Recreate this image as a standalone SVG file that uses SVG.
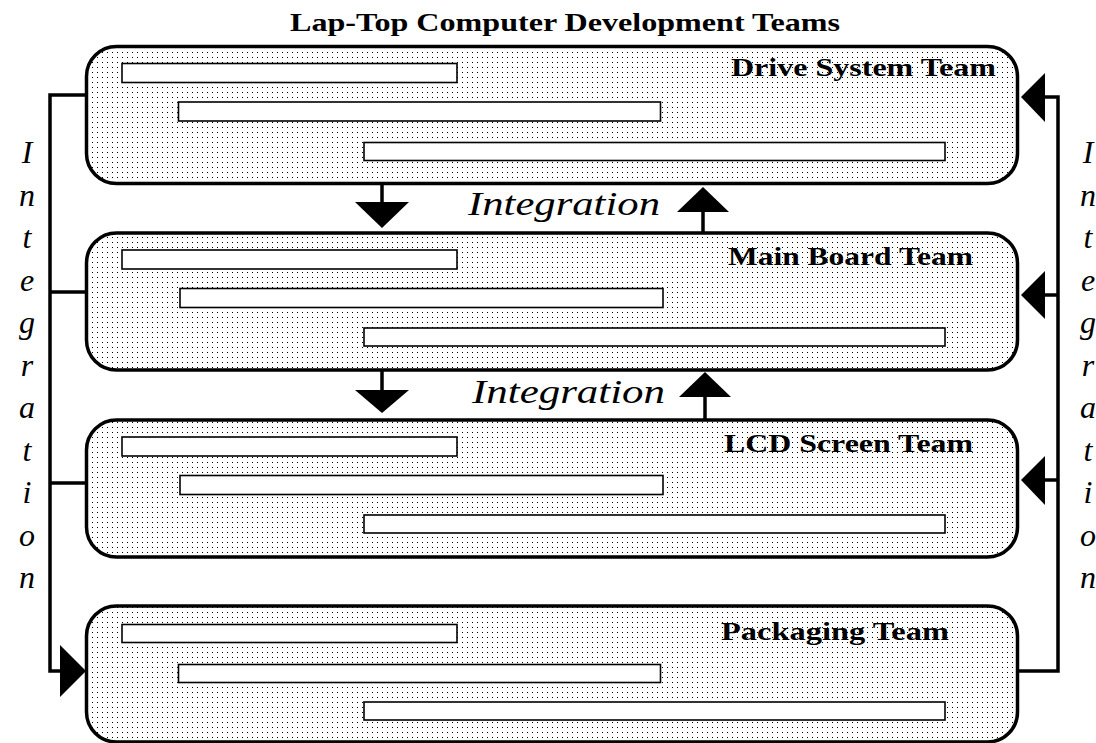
<svg xmlns="http://www.w3.org/2000/svg" width="1096" height="743" viewBox="0 0 1096 743">
<defs>
<pattern id="dots" x="0" y="0" width="5" height="5" patternUnits="userSpaceOnUse">
<rect x="2" y="2" width="1" height="1" fill="#000" shape-rendering="crispEdges"/>
</pattern>
<style>
.box{fill:url(#dots);stroke:#000;stroke-width:3.5}
.bar{fill:#fff;stroke:#000;stroke-width:1.6}
.lbl{font-family:"Liberation Serif","Times New Roman",serif;font-weight:bold;font-size:25px;fill:#000}
.title{font-family:"Liberation Serif","Times New Roman",serif;font-weight:bold;font-size:26px;fill:#000}
.it{font-family:"Liberation Serif","Times New Roman",serif;font-style:italic;font-size:34px;fill:#000}
.vt{font-family:"Liberation Serif","Times New Roman",serif;font-style:italic;font-size:32px;fill:#000;text-anchor:middle}
.ln{fill:none;stroke:#000;stroke-width:3.5}
.ah{fill:#000;stroke:none}
</style>
</defs>
<rect width="1096" height="743" fill="#fff"/>
<text class="title" x="290" y="31" textLength="550" lengthAdjust="spacingAndGlyphs">Lap-Top Computer Development Teams</text>

<g id="connectors">
<path class="ln" d="M86 95 H50 V671 H62"/>
<path class="ln" d="M50 292 H86"/>
<path class="ln" d="M50 483 H86"/>
<polygon class="ah" points="60,645 86,671 60,697"/>
<path class="ln" d="M1018 671 H1058 V97 H1043"/>
<path class="ln" d="M1058 295 H1043"/>
<path class="ln" d="M1058 480 H1043"/>
<polygon class="ah" points="1045,73 1021,97 1045,122"/>
<polygon class="ah" points="1045,271 1021,295 1045,319"/>
<polygon class="ah" points="1045,456 1021,480 1045,505"/>
<path class="ln" d="M382 184 V204"/>
<polygon class="ah" points="355,202 409,202 382,228"/>
<path class="ln" d="M703 210 V233"/>
<polygon class="ah" points="677,212 729,212 703,187"/>
<path class="ln" d="M382 370 V392"/>
<polygon class="ah" points="355,390 409,390 382,413"/>
<path class="ln" d="M705 395 V420"/>
<polygon class="ah" points="679,397 731,397 705,372"/>
<text class="it" x="468" y="215" textLength="192" lengthAdjust="spacingAndGlyphs">Integration</text>
<text class="it" x="472" y="403" textLength="193" lengthAdjust="spacingAndGlyphs">Integration</text>
<text class="vt"><tspan x="27" y="163">I</tspan><tspan x="27" y="205.5">n</tspan><tspan x="27" y="248">t</tspan><tspan x="27" y="290.5">e</tspan><tspan x="27" y="333">g</tspan><tspan x="27" y="375.5">r</tspan><tspan x="27" y="418">a</tspan><tspan x="27" y="460.5">t</tspan><tspan x="27" y="503">i</tspan><tspan x="27" y="545.5">o</tspan><tspan x="27" y="588">n</tspan></text>
<text class="vt"><tspan x="1088" y="163">I</tspan><tspan x="1088" y="205.5">n</tspan><tspan x="1088" y="248">t</tspan><tspan x="1088" y="290.5">e</tspan><tspan x="1088" y="333">g</tspan><tspan x="1088" y="375.5">r</tspan><tspan x="1088" y="418">a</tspan><tspan x="1088" y="460.5">t</tspan><tspan x="1088" y="503">i</tspan><tspan x="1088" y="545.5">o</tspan><tspan x="1088" y="588">n</tspan></text>
</g>

<g id="drive-system-team">
<rect class="box" x="86.5" y="46.5" width="931" height="137" rx="30"/>
<rect class="bar" x="122" y="63.5" width="335" height="19"/>
<rect class="bar" x="178.5" y="102" width="482" height="19"/>
<rect class="bar" x="364" y="142.5" width="581" height="18"/>
<text class="lbl" x="731" y="76" textLength="265" lengthAdjust="spacingAndGlyphs">Drive System Team</text>
</g>

<g id="main-board-team">
<rect class="box" x="86.5" y="233" width="931" height="137" rx="30"/>
<rect class="bar" x="122" y="250" width="335" height="19"/>
<rect class="bar" x="180" y="288.5" width="483" height="19"/>
<rect class="bar" x="364" y="328" width="581" height="18"/>
<text class="lbl" x="728" y="265" textLength="245" lengthAdjust="spacingAndGlyphs">Main Board Team</text>
</g>

<g id="lcd-screen-team">
<rect class="box" x="86.5" y="420" width="931" height="137" rx="30"/>
<rect class="bar" x="122" y="437" width="335" height="19"/>
<rect class="bar" x="180" y="475.5" width="483" height="19"/>
<rect class="bar" x="364" y="515" width="581" height="18"/>
<text class="lbl" x="724" y="452" textLength="249" lengthAdjust="spacingAndGlyphs">LCD Screen Team</text>
</g>

<g id="packaging-team">
<rect class="box" x="86.5" y="606" width="931" height="136" rx="30"/>
<rect class="bar" x="122" y="624.5" width="335" height="18"/>
<rect class="bar" x="178.5" y="664.5" width="482" height="18"/>
<rect class="bar" x="364" y="702" width="581" height="18"/>
<text class="lbl" x="721" y="640" textLength="228" lengthAdjust="spacingAndGlyphs">Packaging Team</text>
</g>
</svg>
